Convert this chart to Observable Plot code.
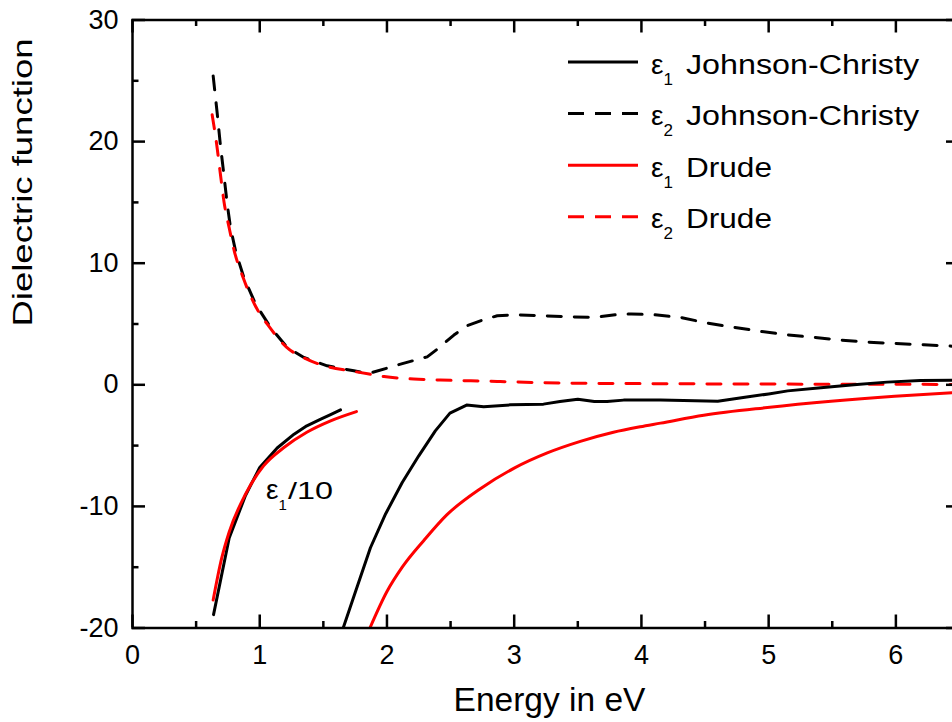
<!DOCTYPE html>
<html>
<head>
<meta charset="utf-8">
<script src="https://cdn.jsdelivr.net/npm/d3@7"></script>
<script src="https://cdn.jsdelivr.net/npm/@observablehq/plot@0.6"></script>
<style>
  body { margin: 0; background: #fff; }
  #wrap { position: relative; width: 952px; height: 722px; overflow: hidden; background: #fff; }
</style>
</head>
<body>
<div id="wrap"></div>
<script>
// ---------- Data ----------
// Tick values
const xMajor = [0, 1, 2, 3, 4, 5, 6];
const xMinor = [0.5, 1.5, 2.5, 3.5, 4.5, 5.5, 6.5];
const yMajor = [-20, -10, 0, 10, 20, 30];
const yMinor = [-15, -5, 5, 15, 25];

// ε1/10 (low-energy branch), Johnson-Christy
const jcEps1LowEnergy = [0.637, 0.76, 0.888, 1.0, 1.137, 1.27, 1.37, 1.48, 1.557, 1.635];
const jcEps1LowValue  = [-18.9, -12.6, -9.1, -6.8, -5.2, -4.06, -3.37, -2.83, -2.45, -2.06];

// ε1/10 (low-energy branch), Drude
const drEps1LowEnergy = [0.634, 0.70, 0.76, 0.888, 1.03, 1.19, 1.37, 1.557, 1.76];
const drEps1LowValue  = [-17.7, -14.3, -12.1, -9.0, -6.67, -5.16, -3.9, -2.96, -2.2];

// ε1 Johnson-Christy
const jcEps1Energy = [1.656, 1.753, 1.87, 1.99, 2.12, 2.25, 2.38, 2.495, 2.626, 2.76, 2.97, 3.23, 3.36, 3.5, 3.63, 3.73, 3.86, 4.15, 4.6, 4.8, 5.0, 5.15, 5.41, 5.67, 5.93, 6.19, 6.5];
const jcEps1Value  = [-20, -17, -13.4, -10.6, -8.04, -5.84, -3.79, -2.33, -1.67, -1.81, -1.65, -1.59, -1.37, -1.18, -1.37, -1.37, -1.26, -1.26, -1.35, -1.05, -0.75, -0.5, -0.25, 0.0, 0.22, 0.35, 0.38];

// ε1 Drude
const drEps1Energy = [1.866, 2.0, 2.12, 2.29, 2.47, 2.74, 3.0, 3.26, 3.52, 3.78, 3.99, 4.15, 4.49, 4.99, 5.49, 5.99, 6.5];
const drEps1Value  = [-20, -17.0, -15.0, -12.8, -10.7, -8.5, -6.85, -5.6, -4.65, -3.9, -3.45, -3.15, -2.5, -1.87, -1.36, -0.95, -0.62];

// ε2 Johnson-Christy
const jcEps2Energy = [0.634, 0.666, 0.69, 0.718, 0.744, 0.77, 0.81, 0.875, 0.967, 1.085, 1.216, 1.347, 1.53, 1.74, 1.858, 2.107, 2.316, 2.395, 2.526, 2.63, 2.75, 2.867, 3.0, 3.21, 3.42, 3.63, 3.84, 3.92, 4.1, 4.31, 4.49, 4.7, 4.94, 5.15, 5.36, 5.57, 5.78, 5.99, 6.22, 6.5];
const jcEps2Value  = [25.4, 22.3, 19.8, 17.3, 14.9, 12.95, 11.0, 8.83, 6.64, 4.72, 3.07, 2.25, 1.56, 1.15, 0.93, 1.7, 2.3, 2.93, 4.09, 4.86, 5.32, 5.68, 5.76, 5.68, 5.6, 5.54, 5.82, 5.82, 5.76, 5.54, 5.13, 4.77, 4.39, 4.1, 3.9, 3.67, 3.51, 3.4, 3.29, 3.15];

// ε2 Drude
const drEps2Energy = [0.626, 0.66, 0.69, 0.72, 0.76, 0.80, 0.87, 0.96, 1.08, 1.21, 1.35, 1.53, 1.74, 1.86, 1.977, 2.21, 2.42, 2.66, 2.89, 3.15, 3.42, 3.68, 3.92, 4.4, 5.0, 5.5, 6.0, 6.5];
const drEps2Value  = [22.2, 19.9, 17.4, 15.0, 12.9, 11.0, 8.8, 6.6, 4.7, 3.1, 2.2, 1.5, 1.1, 0.88, 0.68, 0.47, 0.39, 0.33, 0.27, 0.19, 0.14, 0.11, 0.1, 0.08, 0.06, 0.05, 0.04, 0.03];

// Legend
const legendSubs   = ["1", "2", "1", "2"];
const legendNames  = ["Johnson-Christy", "Johnson-Christy", "Drude", "Drude"];
const legendColors = ["black", "black", "red", "red"];
const legendDashed = [false, true, false, true];

// Text
const xTitle = "Energy in eV";
const yTitle = "Dielectric function";

// ---------- Build ----------
const zip = (E, V) => E.map((e, i) => ({E: e, v: V[i]}));

const W = 960, H = 722;
const mL = 132, mR = 1, mT = 19.5, mB = 94.5;
const plotW = W - mL - mR, plotH = H - mT - mB;
const FONT = "'Liberation Sans', Arial, Helvetica, sans-serif";
const dash = "14,13";

const lineOpts = (stroke, dashed, curve) => ({
  x: "E", y: "v", stroke, strokeWidth: 3, clip: true,
  strokeDasharray: dashed ? dash : null, curve: curve || "linear"
});

const chart = Plot.plot({
  width: W, height: H,
  marginLeft: mL, marginRight: mR, marginTop: mT, marginBottom: mB,
  x: {domain: [0, 6.5]},
  y: {domain: [-20, 30]},
  style: {fontFamily: FONT, color: "black", background: "white", overflow: "visible", maxWidth: "none"},
  marks: [
    // curves
    Plot.line(zip(jcEps2Energy, jcEps2Value), lineOpts("black", true)),
    Plot.line(zip(drEps2Energy, drEps2Value), lineOpts("red", true, "monotone-x")),
    Plot.line(zip(jcEps1LowEnergy, jcEps1LowValue), lineOpts("black", false)),
    Plot.line(zip(drEps1LowEnergy, drEps1LowValue), lineOpts("red", false, "monotone-x")),
    Plot.line(zip(jcEps1Energy, jcEps1Value), lineOpts("black", false)),
    Plot.line(zip(drEps1Energy, drEps1Value), lineOpts("red", false, "monotone-x")),
    // frame
    Plot.frame({stroke: "black", strokeWidth: 2.5}),
    // inward ticks on all four sides
    Plot.tickX(xMajor, {x: d => d, insetTop: plotH - 13, strokeWidth: 2.5}),
    Plot.tickX(xMinor, {x: d => d, insetTop: plotH - 6.5, strokeWidth: 2.5}),
    Plot.tickX(xMajor, {x: d => d, insetBottom: plotH - 13, strokeWidth: 2.5}),
    Plot.tickX(xMinor, {x: d => d, insetBottom: plotH - 6.5, strokeWidth: 2.5}),
    Plot.tickY(yMajor, {y: d => d, insetRight: plotW - 13, strokeWidth: 2.5}),
    Plot.tickY(yMinor, {y: d => d, insetRight: plotW - 6.5, strokeWidth: 2.5}),
    Plot.tickY(yMajor, {y: d => d, insetLeft: plotW - 13, strokeWidth: 2.5}),
    Plot.tickY(yMinor, {y: d => d, insetLeft: plotW - 6.5, strokeWidth: 2.5}),
    // tick labels
    Plot.axisX({ticks: xMajor, tickSize: 0, tickPadding: 17, fontSize: 27, label: null, tickFormat: d => String(d)}),
    Plot.axisY({ticks: yMajor, tickSize: 0, tickPadding: 14, fontSize: 27, label: null, tickFormat: d => String(d)}),
    // axis titles
    Plot.text([xTitle], {text: d => d, frameAnchor: "bottom", dx: 3.5, dy: 72, fontSize: 33.5, lineAnchor: "middle"}),
    Plot.text([yTitle], {text: d => d, frameAnchor: "left", rotate: -90, dx: -109, dy: 2.5, fontSize: 28, lineAnchor: "middle"})
  ]
});
chart.style.maxWidth = "none";
document.getElementById("wrap").appendChild(chart);

const svg = d3.select(chart);
// stretch y title to its reference length
svg.selectAll("text").filter(function() { return this.textContent === yTitle; })
  .attr("textLength", 288).attr("lengthAdjust", "spacingAndGlyphs");

// legend (inside the frame, top right)
const lg = svg.append("g").attr("font-family", FONT).attr("fill", "black").attr("text-anchor", "start");
legendNames.forEach((name, i) => {
  const y = 62 + i * 51.6;
  lg.append("line")
    .attr("x1", 568).attr("x2", 638).attr("y1", y).attr("y2", y)
    .attr("stroke", legendColors[i]).attr("stroke-width", 3)
    .attr("stroke-dasharray", legendDashed[i] ? "16,11" : null);
  const t = lg.append("text").attr("x", 651).attr("y", y + 11.5).attr("font-size", 28).attr("text-anchor", "start");
  t.append("tspan").text("ε");
  t.append("tspan").attr("font-size", 17).attr("dy", 11).text(legendSubs[i]);
  lg.append("text").attr("x", 686).attr("y", y + 11.5).attr("font-size", 27).attr("text-anchor", "start")
    .attr("textLength", name.length > 6 ? 233 : 86).attr("lengthAdjust", "spacingAndGlyphs")
    .text(name);
});

// ε1/10 annotation
const an = svg.append("g").attr("font-family", FONT).attr("fill", "black").attr("text-anchor", "start");
const at = an.append("text").attr("x", 266).attr("y", 499).attr("font-size", 28).attr("text-anchor", "start");
at.append("tspan").text("ε");
at.append("tspan").attr("font-size", 15).attr("dy", 11).text("1");
an.append("text").attr("x", 288).attr("y", 499).attr("font-size", 24).attr("text-anchor", "start")
  .attr("textLength", 45).attr("lengthAdjust", "spacingAndGlyphs").text("/10");
</script>
</body>
</html>
